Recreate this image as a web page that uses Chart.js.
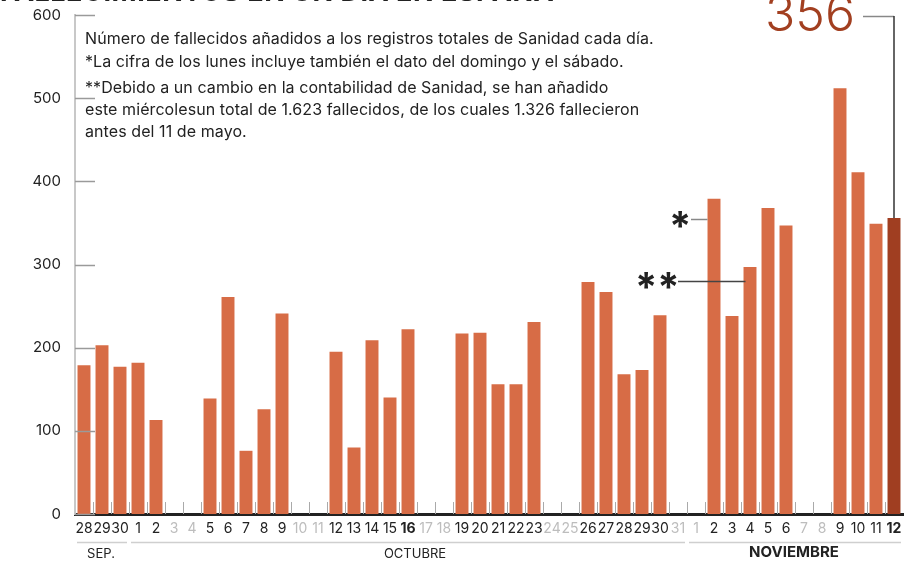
<!DOCTYPE html>
<html>
<head>
<meta charset="utf-8">
<script src="https://cdn.jsdelivr.net/npm/chart.js@4.4.1/dist/chart.umd.min.js"></script>
<style>
  html, body { margin: 0; padding: 0; background: #fff; }
  #wrap { position: relative; width: 915px; height: 562px; overflow: hidden; font-family: Inter, "Noto Sans", sans-serif; color: #222; }
  #chart { position: absolute; left: 0; top: 0; }
  .t { position: absolute; white-space: nowrap; }
  .note { left: 85px; font-size: 16px; line-height: 20px; letter-spacing: 0.08px; }
  .month { font-size: 13px; line-height: 16px; transform: translateX(-50%); }
</style>
</head>
<body>
<div id="wrap">
  <canvas id="chart" width="915" height="562"></canvas>
  <div class="t" id="title" style="left:0; top:-23px; font-size:27px; font-weight:700; line-height:30px; letter-spacing:0.5px;">FALLECIMIENTOS EN UN DÍA EN ESPAÑA</div>
  <div class="t note" style="top:28px;">Número de fallecidos añadidos a los registros totales de Sanidad cada día.</div>
  <div class="t note" style="top:51px;">*La cifra de los lunes incluye también el dato del domingo y el sábado.</div>
  <div class="t note" style="top:77px;">**Debido a un cambio en la contabilidad de Sanidad, se han añadido</div>
  <div class="t note" style="top:99px;">este miércolesun total de 1.623 fallecidos, de los cuales 1.326 fallecieron</div>
  <div class="t note" style="top:121px;">antes del 11 de mayo.</div>
  <div class="t" id="big" style="left:765px; top:-15px; font-size:50px; font-weight:300; line-height:56px; color:#a23f20;">356</div>
  <div class="t" style="left:669px; top:206px; font-size:40px; font-weight:700; line-height:40px;">*</div>
  <div class="t" style="left:635px; top:267px; font-size:40px; font-weight:700; line-height:40px;">**</div>
  <div class="t month" style="left:101px; top:545px;">SEP.</div>
  <div class="t month" style="left:415px; top:545px;">OCTUBRE</div>
  <div class="t month" style="left:794px; top:544px; font-weight:700; font-size:15px;">NOVIEMBRE</div>
</div>
<script>
// Days from 28 Sep to 12 Nov
const days = ['28', '29', '30',
  '1', '2', '3', '4', '5', '6', '7', '8', '9', '10', '11', '12', '13', '14', '15', '16',
  '17', '18', '19', '20', '21', '22', '23', '24', '25', '26', '27', '28', '29', '30', '31',
  '1', '2', '3', '4', '5', '6', '7', '8', '9', '10', '11', '12'];

// deaths added each day (null = no report, weekend)
const deaths = [179, 203, 177,
  182, 113, null, null, 139, 261, 76, 126, 241, null, null, 195, 80, 209, 140, 222,
  null, null, 217, 218, 156, 156, 231, null, null, 279, 267, 168, 173, 239, null,
  null, 379, 238, 297, 368, 347, null, null, 512, 411, 349, 356];

const yTicks = [0, 100, 200, 300, 400, 500, 600];
const boldIdx = [18, 45];   // 16 oct, 12 nov
const monthSpans = [[0, 2], [3, 33], [34, 45]];

const orange = '#d76c46';
const dark = '#a03e21';
const last = deaths.length - 1;

const decor = {
  id: 'decor',
  afterDatasetsDraw(chart) {
    const { ctx, chartArea, scales: { x, y } } = chart;
    const half = (x.getPixelForValue(1) - x.getPixelForValue(0)) / 2;
    ctx.save();

    // short y ticks inside the plot
    ctx.strokeStyle = '#9a9a9a';
    ctx.lineWidth = 1.5;
    yTicks.forEach(v => {
      const py = Math.round(y.getPixelForValue(v)) + 0.5;
      ctx.beginPath();
      ctx.moveTo(chartArea.left, py);
      ctx.lineTo(chartArea.left + 20, py);
      ctx.stroke();
    });

    // little marks between days
    ctx.strokeStyle = '#aaa';
    ctx.lineWidth = 1;
    for (let i = 1; i < days.length; i++) {
      const px = Math.round(x.getPixelForValue(i) - half) + 0.5;
      ctx.beginPath();
      ctx.moveTo(px, chartArea.bottom - 12);
      ctx.lineTo(px, chartArea.bottom);
      ctx.stroke();
    }

    // month brackets under the labels
    ctx.strokeStyle = '#cfcfcf';
    ctx.lineWidth = 1.5;
    monthSpans.forEach(([a, b]) => {
      ctx.beginPath();
      ctx.moveTo(x.getPixelForValue(a) - half + 2, 542.5);
      ctx.lineTo(x.getPixelForValue(b) + half - 2, 542.5);
      ctx.stroke();
    });

    // 356 leader
    const lx = x.getPixelForValue(last);
    ctx.strokeStyle = '#888';
    ctx.beginPath();
    ctx.moveTo(863, 16.5);
    ctx.lineTo(lx, 16.5);
    ctx.stroke();
    ctx.strokeStyle = '#333';
    ctx.beginPath();
    ctx.moveTo(lx, 16);
    ctx.lineTo(lx, y.getPixelForValue(deaths[last]));
    ctx.stroke();

    // * leader to 2 nov
    const nov2 = x.getPixelForValue(35) - half * 0.72;
    const sy = Math.round(y.getPixelForValue(355)) + 0.5;
    ctx.strokeStyle = '#888';
    ctx.beginPath();
    ctx.moveTo(691, sy);
    ctx.lineTo(nov2, sy);
    ctx.stroke();

    // ** leader to 4 nov
    const nov4 = x.getPixelForValue(37) - half * 0.72 + 2;
    const dy = Math.round(y.getPixelForValue(280)) + 0.5;
    ctx.strokeStyle = '#444';
    ctx.beginPath();
    ctx.moveTo(678, dy);
    ctx.lineTo(nov4, dy);
    ctx.stroke();

    ctx.restore();
  }
};

new Chart(document.getElementById('chart'), {
  type: 'bar',
  data: {
    labels: days,
    datasets: [{
      data: deaths,
      backgroundColor: deaths.map((v, i) => i === last ? dark : orange),
      categoryPercentage: 1,
      barPercentage: 0.72
    }]
  },
  options: {
    responsive: false,
    animation: false,
    devicePixelRatio: 1,
    layout: { padding: { top: 15, right: 12, left: 0, bottom: 0 } },
    plugins: { legend: { display: false }, tooltip: { enabled: false } },
    scales: {
      x: {
        offset: true,
        grid: { display: false, drawTicks: false },
        border: { color: '#222', width: 3 },
        ticks: {
          autoSkip: false,
          maxRotation: 0,
          padding: 6,
          color: c => deaths[c.index] == null ? '#bdbdbd' : '#222',
          font: c => ({ family: 'Inter', size: 14, weight: boldIdx.includes(c.index) ? 'bold' : 'normal' })
        },
        afterFit(s) { s.height = 48; }
      },
      y: {
        min: 0,
        max: 600,
        grid: { display: false, drawTicks: false },
        border: { color: '#c8c8c8', width: 2 },
        ticks: {
          stepSize: 100,
          padding: 14,
          color: '#222',
          font: { family: 'Inter', size: 15 }
        },
        afterFit(s) {
          s.width = 75;
          s.paddingTop = 0;
          s.paddingBottom = 0;
        }
      }
    }
  },
  plugins: [decor]
});
</script>
</body>
</html>
